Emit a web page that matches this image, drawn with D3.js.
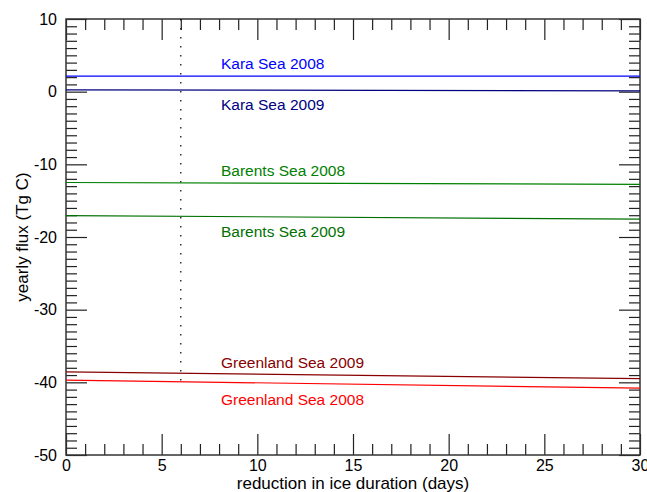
<!DOCTYPE html>
<html>
<head>
<meta charset="utf-8">
<script src="https://cdn.jsdelivr.net/npm/d3@7"></script>
<style>
  html, body { margin: 0; padding: 0; background: #fff; }
  svg { display: block; font-family: "Liberation Sans", Arial, Helvetica, sans-serif; }
</style>
</head>
<body>
<svg id="chart" width="647" height="492"></svg>
<script>
// Sensitivity of yearly CO2 flux to a reduction in ice duration.
const xEnds = [0, 30];                      // reduction in ice duration (days)
const seriesNames = ["Kara Sea 2008", "Kara Sea 2009", "Barents Sea 2008",
                     "Barents Sea 2009", "Greenland Sea 2009", "Greenland Sea 2008"];
const seriesColors = ["#0000ff", "#000080", "#008000", "#007000", "#880000", "#ff0000"];
// flux (Tg C) at 0 and 30 days
const kara2008 = [2.15, 2.15];
const kara2009 = [0.25, 0.12];
const barents2008 = [-12.5, -12.75];
const barents2009 = [-17.05, -17.55];
const greenland2009 = [-38.55, -39.5];
const greenland2008 = [-39.7, -40.8];
const seriesValues = [kara2008, kara2009, barents2008, barents2009, greenland2009, greenland2008];
// label anchor (days) and baseline (Tg C)
const labelX = 8.1;
const labelY = [3.1, -2.5, -11.6, -20.0, -38.0, -43.1];
// reference line at 6 days
const refX = 6;
const refYRange = [10, -40];

const xMajor = [0, 5, 10, 15, 20, 25, 30];
const yMajor = [10, 0, -10, -20, -30, -40, -50];

const W = 647, H = 492;
const margin = {left: 66, right: 7, top: 19, bottom: 37};
const svg = d3.select("#chart");
svg.append("rect").attr("width", W).attr("height", H).attr("fill", "#fff");

const x = d3.scaleLinear().domain([0, 30]).range([margin.left, W - margin.right]);
const y = d3.scaleLinear().domain([-50, 10]).range([H - margin.bottom, margin.top]);

const xMinor = d3.range(0, 31, 1).filter(v => v % 5 !== 0);
const yMinor = d3.range(-50, 11, 1).filter(v => v % 10 !== 0);

const majorLen = 21, minorLen = 11;
const fmt = d => String(d);

function addAxis(axisFn, scale, values, len, translate, labels, pad) {
  const a = axisFn(scale).tickValues(values).tickSize(-len)
    .tickFormat(labels ? fmt : () => "").tickPadding(pad || 0);
  const g = svg.append("g").attr("transform", translate).call(a);
  g.select(".domain").remove();
  g.selectAll(".tick line").attr("stroke", "#222").attr("stroke-width", 1.2);
  g.selectAll("text").attr("fill", "#000").style("font-size", "16px")
    .style("font-family", "'Liberation Sans', Arial, sans-serif");
  return g;
}

const bottomT = `translate(0,${H - margin.bottom})`;
const topT = `translate(0,${margin.top})`;
const leftT = `translate(${margin.left},0)`;
const rightT = `translate(${W - margin.right},0)`;

addAxis(d3.axisBottom, x, xMinor, minorLen, bottomT, false);
addAxis(d3.axisBottom, x, xMajor, majorLen, bottomT, true, 5);
addAxis(d3.axisTop, x, xMinor, minorLen, topT, false);
addAxis(d3.axisTop, x, xMajor, majorLen, topT, false);
addAxis(d3.axisLeft, y, yMinor, minorLen, leftT, false);
addAxis(d3.axisLeft, y, yMajor, majorLen, leftT, true, 9);
addAxis(d3.axisRight, y, yMinor, minorLen, rightT, false);
addAxis(d3.axisRight, y, yMajor, majorLen, rightT, false);

// frame
svg.append("rect")
  .attr("x", x(0)).attr("y", y(10))
  .attr("width", x(30) - x(0)).attr("height", y(-50) - y(10))
  .attr("fill", "none").attr("stroke", "#333").attr("stroke-width", 1.5);

// dotted reference line
svg.append("line")
  .attr("x1", x(refX)).attr("x2", x(refX))
  .attr("y1", y(refYRange[0])).attr("y2", y(refYRange[1]))
  .attr("stroke", "#000").attr("stroke-width", 1.2)
  .attr("stroke-dasharray", "1.5,7.5");

// series lines
const line = d3.line().x(d => x(d[0])).y(d => y(d[1]));
seriesValues.forEach((vals, i) => {
  svg.append("path")
    .datum(xEnds.map((xv, j) => [xv, vals[j]]))
    .attr("d", line)
    .attr("fill", "none")
    .attr("stroke", seriesColors[i])
    .attr("stroke-width", 1.2);
  svg.append("text")
    .attr("x", x(labelX)).attr("y", y(labelY[i]))
    .attr("fill", seriesColors[i])
    .style("font-size", "15.5px")
    .text(seriesNames[i]);
});

// axis titles
svg.append("text")
  .attr("x", (x(0) + x(30)) / 2).attr("y", 489)
  .attr("text-anchor", "middle").style("font-size", "17px")
  .text("reduction in ice duration (days)");
svg.append("text")
  .attr("transform", "rotate(-90)")
  .attr("x", -(y(10) + y(-50)) / 2).attr("y", 28)
  .attr("text-anchor", "middle").style("font-size", "17px")
  .text("yearly flux (Tg C)");
</script>
</body>
</html>
